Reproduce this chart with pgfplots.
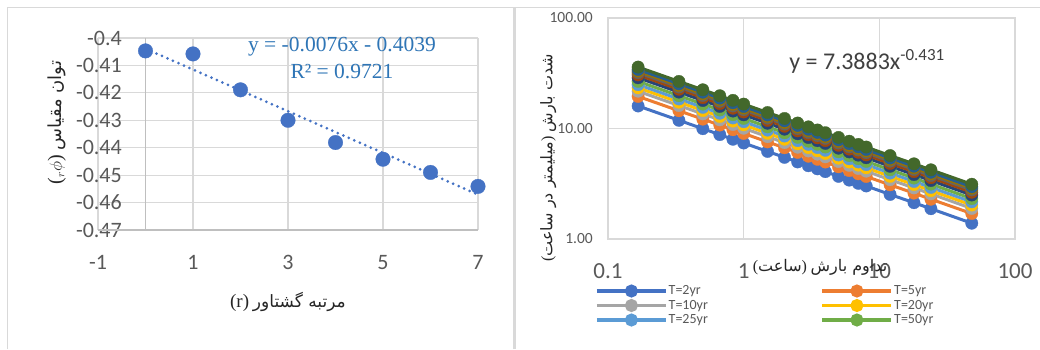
\documentclass[border=0pt]{standalone}
\usepackage{pgfplots}
\pgfplotsset{compat=1.18}
\usepackage{pgfplotstable}
\usepackage{fontspec}
\TeXXeTstate=1
\setmainfont{Carlito}
\newfontfamily\serif{Liberation Serif}
\newfontfamily\arabicfont[Script=Arabic]{DejaVu Sans}

\definecolor{c1}{HTML}{4472C4}
\definecolor{c2}{HTML}{ED7D31}
\definecolor{c3}{HTML}{A5A5A5}
\definecolor{c4}{HTML}{FFC000}
\definecolor{c5}{HTML}{5B9BD5}
\definecolor{c6}{HTML}{70AD47}
\definecolor{c7}{HTML}{264478}
\definecolor{c8}{HTML}{9E480E}
\definecolor{c9}{HTML}{636363}
\definecolor{c10}{HTML}{997300}
\definecolor{c11}{HTML}{255E91}
\definecolor{c12}{HTML}{43682B}
\definecolor{gridgray}{HTML}{D9D9D9}
\definecolor{axisgray}{HTML}{BFBFBF}
\definecolor{tickgray}{HTML}{595959}
\definecolor{eqblue}{HTML}{2E75B6}
\definecolor{eqgray}{HTML}{404040}

\pgfplotstableread{
r phi
0 -0.4047
1 -0.4058
2 -0.4189
3 -0.4300
4 -0.4381
5 -0.4442
6 -0.4490
7 -0.4541
}\gsm

\pgfplotstableread{
x c1 c2 c3 c4 c5 c6 c7 c8 c9 c10 c11 c12
0.1667 15.99 19.51 21.75 23.35 24.94 26.70 28.78 30.54 31.98 33.10 34.22 35.98
0.3333 11.86 14.47 16.13 17.32 18.50 19.81 21.35 22.65 23.72 24.55 25.38 26.69
0.5 9.96 12.15 13.55 14.54 15.54 16.63 17.93 19.02 19.92 20.62 21.31 22.41
0.6667 8.80 10.74 11.97 12.85 13.73 14.70 15.84 16.81 17.60 18.22 18.83 19.80
0.8333 7.99 9.75 10.87 11.67 12.46 13.34 14.38 15.26 15.98 16.54 17.10 17.98
1 7.39 9.02 10.05 10.79 11.53 12.34 13.30 14.11 14.78 15.30 15.81 16.63
1.5 6.20 7.56 8.43 9.05 9.67 10.35 11.16 11.84 12.40 12.83 13.27 13.95
2 5.48 6.69 7.45 8.00 8.55 9.15 9.86 10.47 10.96 11.34 11.73 12.33
2.5 4.98 6.08 6.77 7.27 7.77 8.32 8.96 9.51 9.96 10.31 10.66 11.21
3 4.60 5.61 6.26 6.72 7.18 7.68 8.28 8.79 9.20 9.52 9.84 10.35
3.5 4.31 5.26 5.86 6.29 6.72 7.20 7.76 8.23 8.62 8.92 9.22 9.70
4 4.07 4.97 5.54 5.94 6.35 6.80 7.33 7.77 8.14 8.42 8.71 9.16
5 3.69 4.50 5.02 5.39 5.76 6.16 6.64 7.05 7.38 7.64 7.90 8.30
6 3.41 4.16 4.64 4.98 5.32 5.69 6.14 6.51 6.82 7.06 7.30 7.67
7 3.19 3.89 4.34 4.66 4.98 5.33 5.74 6.09 6.38 6.60 6.83 7.18
8 3.02 3.68 4.11 4.41 4.71 5.04 5.44 5.77 6.04 6.25 6.46 6.80
12 2.53 3.09 3.44 3.69 3.95 4.23 4.55 4.83 5.06 5.24 5.41 5.69
18 2.13 2.60 2.90 3.11 3.32 3.56 3.83 4.07 4.26 4.41 4.56 4.79
24 1.88 2.29 2.56 2.74 2.93 3.14 3.38 3.59 3.76 3.89 4.02 4.23
48 1.39 1.70 1.89 2.03 2.17 2.32 2.50 2.65 2.78 2.88 2.97 3.13
}\idf

\begin{document}
\begin{tikzpicture}
\path[use as bounding box] (0pt,0pt) rectangle (1040pt,349pt);
\fill[white] (0pt,0pt) rectangle (1040pt,349pt);
\draw[gridgray, line width=1pt] (7pt,0pt) -- (7pt,341pt) -- (1040pt,341pt);
\draw[gridgray, line width=3pt] (514.5pt,0pt) -- (514.5pt,341pt);

% ---------- left chart ----------
\begin{axis}[
  at={(98pt,119pt)}, anchor=south west,
  scale only axis, width=380pt, height=192pt,
  xmin=-1, xmax=7, ymin=-0.47, ymax=-0.4,
  xtick={-1,1,3,5,7}, xticklabels={-1,1,3,5,7},
  ytick={-0.47,-0.46,-0.45,-0.44,-0.43,-0.42,-0.41,-0.4},
  yticklabels={-0.47,-0.46,-0.45,-0.44,-0.43,-0.42,-0.41,-0.4},
  grid=major, major grid style={draw=gridgray, line width=1.2pt},
  axis line style={draw=none},
  major tick length=0pt,
  tick label style={font=\fontsize{22}{26}\selectfont, text=tickgray},
  yticklabel style={anchor=east, inner sep=0pt, xshift=24pt},
  xticklabel style={anchor=north, inner sep=0pt, yshift=-25pt},
  extra x ticks={0}, extra x tick labels={},
  extra x tick style={grid=major, major grid style={draw=axisgray, line width=1.4pt}},
  extra y ticks={-0.47}, extra y tick labels={},
  extra y tick style={grid=major, major grid style={draw=axisgray, line width=1.4pt}},
  xlabel={{\serif\fontsize{19}{22}\selectfont (r)} {\arabicfont\beginR مرتبه گشتاور\endR}},
  xlabel style={at={(axis description cs:0.5,-0.375)}, anchor=center, font=\fontsize{17}{20}\selectfont, text=black!85},
  ylabel={{\serif\fontsize{20}{22}\selectfont(}$_{r}\phi${\serif\fontsize{20}{22}\selectfont)} {\arabicfont\beginR توان مقیاس\endR}},
  ylabel style={at={(axis description cs:-0.108,0.56)}, anchor=center, font=\fontsize{18}{21}\selectfont, text=black!85},
  clip=false,
]
\addplot[c1, line width=3pt, dash pattern=on 0pt off 6pt, line cap=round] coordinates {(0,-0.4039) (7,-0.4571)};
\addplot[only marks, mark=*, mark size=7.3pt, color=c1, mark options={draw=c1, line width=0.3pt}] table[x=r,y=phi]{\gsm};
\node[font=\serif\fontsize{21.5}{24}\selectfont, text=eqblue] at (axis description cs:0.642,0.953) {y = -0.0076x - 0.4039};
\node[font=\serif\fontsize{21.5}{24}\selectfont, text=eqblue] at (axis description cs:0.642,0.828) {R² = 0.9721};
\end{axis}

% ---------- right chart ----------
\begin{axis}[
  at={(608pt,110pt)}, anchor=south west,
  scale only axis, width=407pt, height=221pt,
  xmode=log, ymode=log,
  xmin=0.1, xmax=100, ymin=1, ymax=100,
  xtick={0.1,1,10,100}, xticklabels={0.1,1,10,100},
  ytick={1,10,100}, yticklabels={1.00,10.00,100.00},
  xminorticks=false, yminorticks=false,
  grid=major, major grid style={draw=gridgray, line width=1.2pt},
  axis line style={draw=gridgray, line width=1.2pt},
  major tick length=0pt, minor tick length=0pt,
  xticklabel style={font=\fontsize{23}{27}\selectfont, text=tickgray, anchor=north, inner sep=0pt, yshift=-24pt},
  yticklabel style={font=\fontsize{15.5}{18}\selectfont, text=tickgray, anchor=east, inner sep=0pt, xshift=-15pt},
  xlabel={{\serif(}{\arabicfont ساعت}{\serif)} {\arabicfont\beginR تداوم بارش\endR}},
  xlabel style={at={(axis description cs:0.521,-0.127)}, anchor=center, font=\fontsize{16}{19}\selectfont, text=black!85},
  ylabel={{\serif(}{\arabicfont\beginR میلیمتر در ساعت\endR}{\serif)} {\arabicfont\beginR شدت بارش\endR}},
  ylabel style={at={(axis description cs:-0.147,0.367)}, anchor=center, font=\fontsize{16}{19}\selectfont, text=black!85},
  every axis plot/.append style={line width=3pt, mark=*, mark size=6.2pt, mark options={line width=0.3pt}},
  legend columns=2,
  legend cell align=left,
  legend image code/.code={\draw[#1, line width=3.5pt] (0pt,0pt) -- (69pt,0pt); \fill[#1] (34.5pt,0pt) circle (5pt);},
  legend style={at={(axis description cs:-0.032,-0.205)}, anchor=north west, draw=none, fill=none,
    font=\fontsize{14}{16}\selectfont, text=tickgray, inner sep=0pt, row sep=1.5pt,
    nodes={inner sep=1pt}},
  clip=false,
]
\addplot[color=c1] table[x=x,y=c1]{\idf}; \addlegendentry{\makebox[151pt][l]{T=2yr}}
\addplot[color=c2] table[x=x,y=c2]{\idf}; \addlegendentry{T=5yr}
\addplot[color=c3] table[x=x,y=c3]{\idf}; \addlegendentry{\makebox[151pt][l]{T=10yr}}
\addplot[color=c4] table[x=x,y=c4]{\idf}; \addlegendentry{T=20yr}
\addplot[color=c5] table[x=x,y=c5]{\idf}; \addlegendentry{\makebox[151pt][l]{T=25yr}}
\addplot[color=c6] table[x=x,y=c6]{\idf}; \addlegendentry{T=50yr}
\addplot[color=c7, forget plot] table[x=x,y=c7]{\idf};
\addplot[color=c8, forget plot] table[x=x,y=c8]{\idf};
\addplot[color=c9, forget plot] table[x=x,y=c9]{\idf};
\addplot[color=c10, forget plot] table[x=x,y=c10]{\idf};
\addplot[color=c11, forget plot] table[x=x,y=c11]{\idf};
\addplot[color=c12, forget plot] table[x=x,y=c12]{\idf};
\node[font=\fontsize{24}{28}\selectfont, text=eqgray] at (axis description cs:0.636,0.805) {y = 7.3883x\raisebox{9pt}{\fontsize{17}{20}\selectfont -0.431}};
\end{axis}
\end{tikzpicture}
\end{document}
